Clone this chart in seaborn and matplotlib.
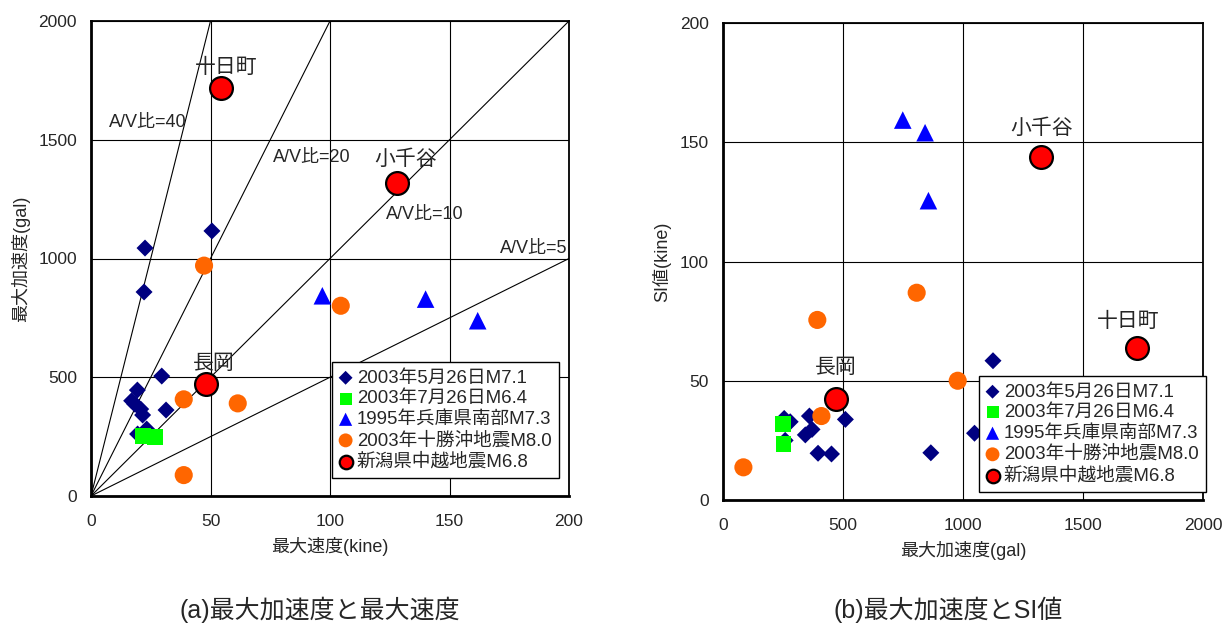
import matplotlib
matplotlib.use("Agg")
import matplotlib.pyplot as plt
import seaborn as sns
import numpy as np

# (a) peak velocity (kine) vs peak acceleration (gal)
a_may_vel = [50.6, 22.6, 22.2, 29.6, 19.4, 17.0, 18.3, 20.8, 31.4, 21.6, 23.3, 19.5]
a_may_acc = [1116, 1044, 859, 505, 446, 401, 387, 366, 362, 341, 282, 261]
a_jul_vel = [21.9, 26.8]
a_jul_acc = [253, 250]
a_hyogo_vel = [96.8, 140.0, 161.8]
a_hyogo_acc = [843, 829, 738]
a_tokachi_vel = [38.8, 61.4, 38.8, 47.3, 104.5]
a_tokachi_acc = [407, 390, 88, 970, 801]
a_niigata_vel = [54.4, 128.0, 48.1]
a_niigata_acc = [1718, 1318, 470]

# (b) peak acceleration (gal) vs SI value (kine)
b_may_acc = [1125, 1048, 866, 510, 452, 396, 371, 360, 343, 280, 259, 255]
b_may_si = [58.4, 28.0, 19.8, 33.8, 19.3, 19.6, 29.6, 35.2, 27.3, 32.8, 25.0, 34.2]
b_jul_acc = [250, 252]
b_jul_si = [31.7, 23.5]
b_hyogo_acc = [749, 842, 856]
b_hyogo_si = [159.3, 154.0, 125.5]
b_tokachi_acc = [85, 393, 410, 807, 978]
b_tokachi_si = [13.7, 75.5, 35.2, 86.9, 50.0]
b_niigata_acc = [1725, 1326, 469]
b_niigata_si = [63.7, 143.8, 42.3]

site_names = ["十日町", "小千谷", "長岡"]
series_names = ["2003年5月26日M7.1", "2003年7月26日M6.4", "1995年兵庫県南部M7.3",
                "2003年十勝沖地震M8.0", "新潟県中越地震M6.8"]
av_ratios = [40, 20, 10, 5]

sns.set_style("white")
plt.rcParams["font.family"] = ["Liberation Sans", "Noto Sans CJK JP", "DejaVu Sans"]

fig = plt.figure(figsize=(12.27, 6.25), dpi=100)
ax1 = fig.add_axes([91 / 1227, 129 / 625, 478 / 1227, 475 / 625])
ax2 = fig.add_axes([723 / 1227, 125 / 625, 480 / 1227, 477 / 625])

styles = [
    dict(marker="D", color="#000080", s=75, edgecolor="none"),
    dict(marker="s", color="#00FF00", s=130, edgecolor="none"),
    dict(marker="^", color="#0000FF", s=160, edgecolor="none"),
    dict(marker="o", color="#FF6600", s=170, edgecolor="none"),
    dict(marker="o", color="#FF0000", s=270, edgecolor="black", linewidth=1.6),
]
legend_sizes = [50, 75, 90, 100, 95]


def draw(ax, xs, ys):
    for (x, y), name, st in zip(zip(xs, ys), series_names, styles):
        sns.scatterplot(x=x, y=y, ax=ax, label=name, zorder=4, **st)


def frame(ax, xmax, ymax, xstep, ystep):
    ax.set_xlim(0, xmax)
    ax.set_ylim(0, ymax)
    ax.set_xticks(np.arange(0, xmax + 1, xstep))
    ax.set_yticks(np.arange(0, ymax + 1, ystep))
    ax.grid(True, color="black", linewidth=0.8)
    ax.set_axisbelow(True)
    for sp in ax.spines.values():
        sp.set_color("black")
        sp.set_linewidth(1.3)
    ax.spines["left"].set_linewidth(2)
    ax.spines["bottom"].set_linewidth(2)
    ax.tick_params(axis="both", labelsize=12.5, length=4, direction="in", color="black")
    ax.tick_params(axis="x", pad=13)
    ax.tick_params(axis="y", pad=10)


def legend(ax, anchor):
    leg = ax.legend(loc="lower right", bbox_to_anchor=anchor, fontsize=13.4,
                    frameon=True, fancybox=False, framealpha=1, edgecolor="black",
                    handlelength=0.7, handletextpad=0.25, labelspacing=0.2,
                    borderpad=0.4, borderaxespad=0)
    leg.get_frame().set_linewidth(1.0)
    for h, sz in zip(leg.legend_handles, legend_sizes):
        h.set_sizes([sz])
    leg.set_zorder(10)


# ---- (a)
frame(ax1, 200, 2000, 50, 500)
for r in av_ratios:
    vmax = min(200, 2000 / r)
    ax1.plot([0, vmax], [0, r * vmax], color="black", linewidth=0.8, zorder=2)
draw(ax1, [a_may_vel, a_jul_vel, a_hyogo_vel, a_tokachi_vel, a_niigata_vel],
     [a_may_acc, a_jul_acc, a_hyogo_acc, a_tokachi_acc, a_niigata_acc])
ax1.set_xlabel("最大速度(kine)", fontsize=13, labelpad=6)
ax1.set_ylabel("最大加速度(gal)", fontsize=13, labelpad=6)
ratio_label_pos = [(7.5, 1571), (76, 1427), (123.4, 1187), (171, 1040)]
for r, (tx, ty) in zip(av_ratios, ratio_label_pos):
    ax1.text(tx, ty, f"A/V比={r}", fontsize=13, va="center", ha="left", zorder=3)
offs_a = [(5, 21), (9, 24), (8, 21)]
for name, x, y, o in zip(site_names, a_niigata_vel, a_niigata_acc, offs_a):
    ax1.annotate(name, (x, y), xytext=o, textcoords="offset pixels",
                 ha="center", va="center", fontsize=15, zorder=5)
legend(ax1, (0.979, 0.038))

# ---- (b)
frame(ax2, 2000, 200, 500, 50)
draw(ax2, [b_may_acc, b_jul_acc, b_hyogo_acc, b_tokachi_acc, b_niigata_acc],
     [b_may_si, b_jul_si, b_hyogo_si, b_tokachi_si, b_niigata_si])
ax2.set_xlabel("最大加速度(gal)", fontsize=13, labelpad=6)
ax2.set_ylabel("SI値(kine)", fontsize=13, labelpad=6)
offs_b = [(-9, 27), (0, 29), (0, 32)]
for name, x, y, o in zip(site_names, b_niigata_acc, b_niigata_si, offs_b):
    ax2.annotate(name, (x, y), xytext=o, textcoords="offset pixels",
                 ha="center", va="center", fontsize=15, zorder=5)
legend(ax2, (1.006, 0.017))

fig.text(320 / 1227, 1 - 610 / 625, "(a)最大加速度と最大速度", ha="center", va="center", fontsize=18)
fig.text(948 / 1227, 1 - 610 / 625, "(b)最大加速度とSI値", ha="center", va="center", fontsize=18)

fig.savefig("out.png", dpi=100)
